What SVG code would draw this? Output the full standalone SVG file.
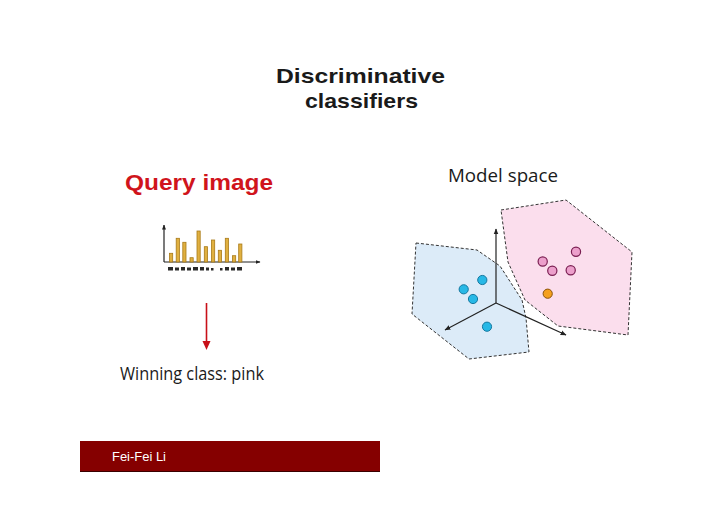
<svg xmlns="http://www.w3.org/2000/svg" width="720" height="508" viewBox="0 0 720 508">
<defs>
<style>
.title{font-family:"Liberation Sans",Arial,sans-serif;font-weight:bold;font-size:21px;fill:#1a1a1a}
.query{font-family:"Liberation Sans",Arial,sans-serif;font-weight:bold;font-size:22px;fill:#d0141c}
.body{font-family:"Open Sans","Noto Sans",sans-serif;font-size:17.5px;fill:#1a1a1a}
.foot{font-family:"Liberation Sans",Arial,sans-serif;font-size:13px;fill:#ffffff}
.bar{fill:#e0b040;stroke:#a87a18;stroke-width:0.8}
.axis{stroke:#222;stroke-width:1.2;fill:none}
.poly{stroke:#333;stroke-width:1;stroke-dasharray:3,2}
.bdot{fill:#27b8e6;stroke:#1578a0;stroke-width:1}
.pdot{fill:#ec9fcb;stroke:#7a1e52;stroke-width:1.2}
.odot{fill:#f5a01e;stroke:#8a5208;stroke-width:1}
.glyph{fill:#2a2a2a}
</style>
<marker id="ah" viewBox="0 0 10 10" refX="9" refY="5" markerWidth="6" markerHeight="6" orient="auto" markerUnits="userSpaceOnUse">
<path d="M0,1 L10,5 L0,9 z" fill="#222"/>
</marker>
<marker id="ahs" viewBox="0 0 10 10" refX="9" refY="5" markerWidth="5" markerHeight="5" orient="auto" markerUnits="userSpaceOnUse">
<path d="M0,1 L10,5 L0,9 z" fill="#222"/>
</marker>
</defs>
<rect width="720" height="508" fill="#ffffff"/>

<g id="title">
<text class="title" x="276" y="83" textLength="169" lengthAdjust="spacingAndGlyphs">Discriminative</text>
<text class="title" x="305" y="108" textLength="113" lengthAdjust="spacingAndGlyphs">classifiers</text>
</g>

<g id="query">
<text class="query" x="125" y="190" textLength="148" lengthAdjust="spacingAndGlyphs">Query image</text>
</g>

<g id="histogram">
<line class="axis" x1="164" y1="262" x2="164" y2="225" marker-end="url(#ahs)" stroke-width="1"/>
<line class="axis" x1="164" y1="262" x2="260" y2="262" marker-end="url(#ahs)" stroke-width="1"/>
<rect class="bar" x="169.5" y="253.3" width="3.2" height="8.7"/>
<rect class="bar" x="176.2" y="238.3" width="3.2" height="23.7"/>
<rect class="bar" x="182.8" y="242.3" width="3.2" height="19.7"/>
<rect class="bar" x="190" y="257.7" width="3.2" height="4.3"/>
<rect class="bar" x="197" y="231" width="3.2" height="31"/>
<rect class="bar" x="204.3" y="246.7" width="3.2" height="15.3"/>
<rect class="bar" x="211.5" y="240" width="3.2" height="22"/>
<rect class="bar" x="218.3" y="250.3" width="3.2" height="11.7"/>
<rect class="bar" x="225.3" y="238.3" width="3.2" height="23.7"/>
<rect class="bar" x="232.5" y="255.7" width="3.2" height="6.3"/>
<rect class="bar" x="238.7" y="244" width="3.2" height="18"/>
<g class="glyph">
<rect x="168" y="267" width="5" height="3.5"/>
<rect x="175" y="267.5" width="4" height="3"/>
<rect x="181" y="267" width="4" height="3.5"/>
<rect x="187" y="267.5" width="4" height="3"/>
<rect x="193" y="267" width="5" height="3.5"/>
<rect x="200" y="267" width="4" height="3.5"/>
<rect x="206" y="267.5" width="3" height="3"/>
<rect x="211" y="268" width="2.5" height="2.5"/>
<rect x="220" y="268" width="2.5" height="2.5"/>
<rect x="225" y="267" width="4" height="3.5"/>
<rect x="231" y="267.5" width="4" height="3"/>
<rect x="237" y="267" width="5" height="3.5"/>
</g>
</g>

<g id="arrow">
<line x1="206.5" y1="303" x2="206.5" y2="343" stroke="#c81018" stroke-width="1.6"/>
<path d="M202.5,341 L210.5,341 L206.5,350 z" fill="#c81018"/>
</g>

<g id="result">
<text class="body" x="120" y="380" textLength="144" lengthAdjust="spacingAndGlyphs">Winning class: pink</text>
</g>

<g id="model-space">
<text class="body" x="448" y="182" textLength="110" lengthAdjust="spacingAndGlyphs">Model space</text>
<polygon id="blue-region" class="poly" fill="#dcebf8" points="416,243 477,250 500,266 522,300 526,318 529,352 469,359 412,314"/>
<polygon id="pink-region" class="poly" fill="#fbdcec" fill-opacity="0.95" points="501,210 566,200 632,252 628,335 558,326 525,300 508,262"/>
<g id="axes">
<line class="axis" x1="496" y1="303" x2="496" y2="229" marker-end="url(#ah)"/>
<line class="axis" x1="496" y1="303" x2="445" y2="330" marker-end="url(#ah)"/>
<line class="axis" x1="496" y1="303" x2="566" y2="335" marker-end="url(#ah)"/>
</g>
<g id="blue-points">
<circle class="bdot" cx="482.3" cy="280" r="4.6"/>
<circle class="bdot" cx="463.7" cy="289.3" r="4.6"/>
<circle class="bdot" cx="473" cy="299" r="4.6"/>
<circle class="bdot" cx="487" cy="326.7" r="4.6"/>
</g>
<g id="pink-points">
<circle class="pdot" cx="576" cy="251.7" r="4.6"/>
<circle class="pdot" cx="542.7" cy="261.5" r="4.6"/>
<circle class="pdot" cx="552.3" cy="270.7" r="4.6"/>
<circle class="pdot" cx="570.7" cy="270.3" r="4.6"/>
</g>
<g id="query-point">
<circle class="odot" cx="547.7" cy="293.7" r="4.6"/>
</g>
</g>

<g id="footer">
<rect x="80" y="441" width="300" height="30.5" fill="#850000"/>
<line x1="80" y1="471.5" x2="380" y2="471.5" stroke="#3a0000" stroke-width="1"/>
<text class="foot" x="112" y="461" textLength="54" lengthAdjust="spacingAndGlyphs">Fei-Fei Li</text>
</g>
</svg>
